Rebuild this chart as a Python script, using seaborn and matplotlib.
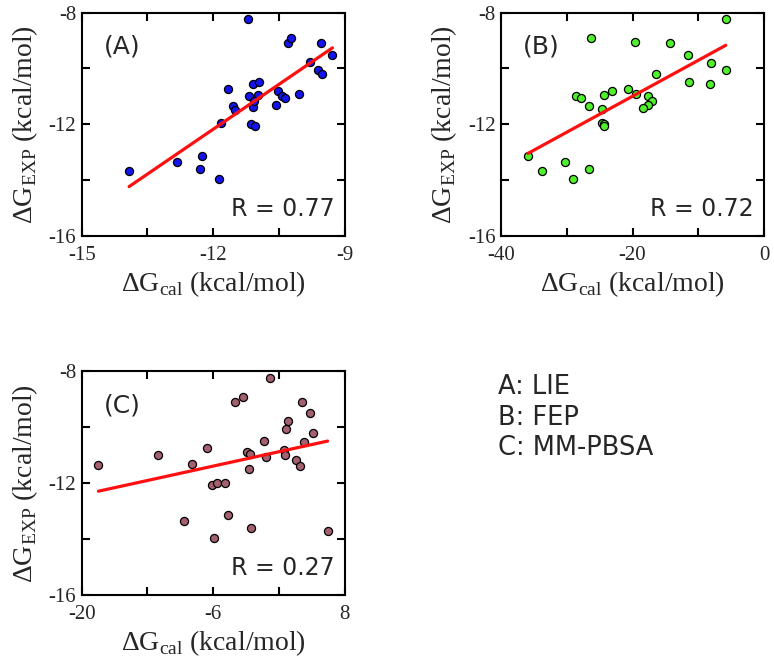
import matplotlib
matplotlib.use("Agg")
import matplotlib.pyplot as plt
import pandas as pd
import seaborn as sns

# values
lie_cal = [-11.20, -10.29, -10.22, -9.55, -9.28, -9.80, -9.61, -9.52, -11.67, -11.09,
           -10.95, -11.18, -10.97, -10.53, -10.44, -10.37, -10.04, -11.54, -11.50, -11.09,
           -11.07, -10.57, -11.83, -11.13, -11.04, -12.25, -12.82, -12.30, -11.86, -13.92]
lie_exp = [-8.24, -9.10, -8.91, -9.09, -9.52, -9.78, -10.05, -10.20, -10.73, -10.57,
           -10.48, -10.97, -10.95, -10.81, -10.99, -11.07, -10.93, -11.34, -11.49, -11.39,
           -11.15, -11.32, -11.96, -11.98, -12.05, -13.13, -13.35, -13.59, -13.95, -13.67]

fep_cal = [-5.82, -26.28, -19.59, -14.33, -11.54, -8.10, -5.82, -16.41, -11.39, -8.20,
           -28.61, -27.80, -24.30, -23.09, -20.71, -19.44, -17.62, -17.06, -17.67, -18.43,
           -26.58, -24.71, -24.71, -24.30, -24.35, -35.90, -33.77, -30.28, -29.06, -26.68]
fep_exp = [-8.24, -8.90, -9.07, -9.10, -9.52, -9.79, -10.07, -10.20, -10.48, -10.57,
           -10.99, -11.06, -10.96, -10.81, -10.75, -10.91, -10.99, -11.18, -11.32, -11.40,
           -11.34, -11.47, -11.96, -11.99, -12.05, -13.13, -13.67, -13.35, -13.95, -13.59]

pbsa_cal = [0.02, -3.65, -2.87, 3.41, 4.33, 1.91, 1.73, 4.58, -0.55, 3.69,
            -6.68, -11.91, -18.22, -8.28, -2.37, -2.12, -0.34, 1.52, 1.66, 2.80,
            3.19, -2.22, -6.14, -5.64, -4.79, -4.43, -9.10, -1.97, -5.89, 6.18]
pbsa_exp = [-8.25, -9.09, -8.91, -9.09, -9.50, -9.79, -10.07, -10.20, -10.50, -10.54,
            -10.75, -10.99, -11.36, -11.32, -10.90, -10.97, -11.07, -10.81, -11.00, -11.16,
            -11.40, -11.49, -12.06, -11.99, -11.99, -13.13, -13.36, -13.59, -13.95, -13.70]

x_major = [[-15, -12, -9], [-40, -20, 0], [-20, -6, 8]]
x_minor = [[-13.5, -10.5], [-30, -10], [-13, 1]]
y_major = [-16, -12, -8]
y_minor = [-14, -10]

panel_tags = ["(A)", "(B)", "(C)"]
r_values = ["0.77", "0.72", "0.27"]
methods = ["A: LIE", "B: FEP", "C: MM-PBSA"]

sns.set_theme(style="ticks")
plt.rcParams["font.family"] = ["Liberation Serif", "DejaVu Serif"]
plt.rcParams["mathtext.fontset"] = "custom"
plt.rcParams["mathtext.rm"] = "Liberation Serif"
plt.rcParams["axes.unicode_minus"] = False

fig = plt.figure(figsize=(7.74, 6.63), dpi=100)
w, h = 0.3398, 0.3371
ax_a = fig.add_axes([0.1056, 0.644, w, h])
ax_b = fig.add_axes([0.6473, 0.644, w, h])
ax_c = fig.add_axes([0.1056, 0.1026, w, h])

panels = [
    (ax_a, lie_cal, lie_exp, "#1414f0"),
    (ax_b, fep_cal, fep_exp, "#4ff02c"),
    (ax_c, pbsa_cal, pbsa_exp, "#a3606f"),
]

for i, (ax, xs, ys, col) in enumerate(panels):
    df = pd.DataFrame({"cal": xs, "exp": ys})
    sns.regplot(data=df, x="cal", y="exp", ax=ax, ci=None,
                scatter_kws={"s": 34, "color": col, "edgecolor": "black",
                             "linewidths": 0.9, "alpha": 1, "zorder": 2},
                line_kws={"color": "#ff1010", "lw": 2.3, "zorder": 3})
    ax.set_xlim(x_major[i][0], x_major[i][-1])
    ax.set_ylim(-16, -8)
    ax.set_xticks(x_major[i])
    ax.set_xticks(x_minor[i], minor=True)
    ax.set_yticks(y_major)
    ax.set_yticks(y_minor, minor=True)
    for s in ax.spines.values():
        s.set_linewidth(1.5)
        s.set_color("black")
    ax.tick_params(which="both", direction="in", top=True, right=True,
                   length=6, width=1.5, color="black")
    ax.tick_params(axis="x", which="major", pad=7, labelsize=15)
    ax.tick_params(axis="y", which="major", pad=4, labelsize=15)
    ax.set_xlabel(r"$\Delta$G$_{\rm cal}$ (kcal/mol)", fontsize=20, labelpad=3)
    ax.set_ylabel(r"$\Delta$G$_{\rm EXP}$ (kcal/mol)", fontsize=20, labelpad=6)
    ax.text(0.085, 0.85, panel_tags[i], transform=ax.transAxes, ha="left",
            va="center", fontsize=18, family="DejaVu Sans")
    ax.text(0.96, 0.12, "R = " + r_values[i], transform=ax.transAxes, ha="right",
            va="center", fontsize=17, family="DejaVu Sans")

for j, m in enumerate(methods):
    fig.text(0.643, 0.416 - j * 0.046, m, ha="left", va="center",
             fontsize=18.5, family="DejaVu Sans")

fig.savefig("out.png", dpi=100)
